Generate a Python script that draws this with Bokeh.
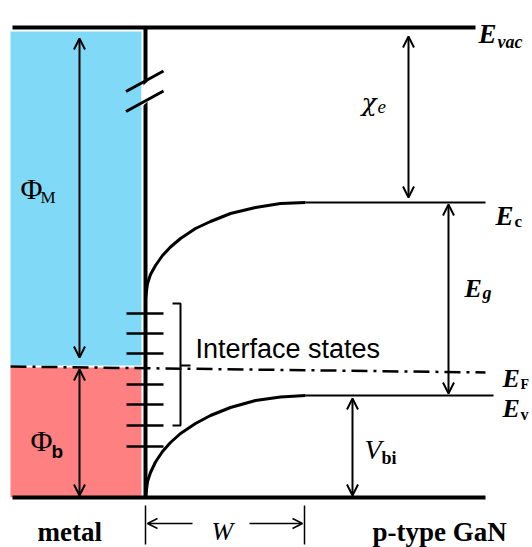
from bokeh.plotting import figure
from bokeh.models import Range1d, Arrow, OpenHead
from bokeh.core.properties import value
from bokeh.embed import file_html
from bokeh.resources import INLINE

# ---- energy levels (picture units, y grows downward) ----
E_VAC = 27
E_C = 202
E_F_LEFT = 366
E_F_RIGHT = 372
E_V = 395
E_BOTTOM = 497
X_LEFT = 10
X_IFACE = 145
X_DEPL = 305
X_RIGHT_END = 485

# band-bending curves
ec_x = [145, 147, 150, 155, 162, 170, 180, 195, 210, 230, 255, 280, 305]
ec_y = [298, 283, 274, 265, 255, 246.5, 238, 228, 221, 213, 207, 203, 202]
ev_x = [145, 147, 150, 155, 162, 170, 180, 195, 210, 230, 255, 280, 305]
ev_y = [497, 481, 472, 461.5, 451, 442, 433, 423, 415, 407, 400, 396.5, 395]

# interface states
states_y = [313, 333, 353, 384, 404, 425, 446]

BLUE = "#80d9f6"
RED = "#ff8080"
SERIF = value("Liberation Serif")
DSERIF = value("DejaVu Serif")
SANS = value("Liberation Sans")

p = figure(width=532, height=547, output_backend="svg", toolbar_location=None,
           x_range=Range1d(0, 532), y_range=Range1d(547, 0), min_border=0)
p.axis.visible = False
p.grid.visible = False
p.outline_line_color = None
p.background_fill_color = "white"
p.border_fill_color = "white"

# metal regions
p.quad(left=[X_LEFT], right=[X_IFACE - 4], top=[E_VAC + 4], bottom=[E_F_LEFT - 1],
       fill_color=BLUE, line_color=None)
p.quad(left=[X_LEFT], right=[X_IFACE - 4], top=[E_F_LEFT + 1], bottom=[E_BOTTOM],
       fill_color=RED, line_color=None)

# vacuum level and bottom line
p.line([12, 475], [E_VAC, E_VAC], line_width=4, color="black")
p.line([12, X_RIGHT_END], [E_BOTTOM, E_BOTTOM], line_width=4, color="black")

# interface vertical line
p.line([X_IFACE, X_IFACE], [E_VAC, E_BOTTOM], line_width=4, color="black")

# axis break
p.patch([141, 153, 153, 141], [86.4, 76, 96, 106.4], fill_color="white", line_color=None)
p.line([125.5, 163], [91, 70.5], line_width=3, color="black")
p.line([125.5, 163], [111, 90.5], line_width=3, color="black")

# conduction and valence band
p.line(ec_x, ec_y, line_width=3, color="black")
p.line([X_DEPL, X_RIGHT_END], [E_C, E_C], line_width=2, color="black")
p.line(ev_x, ev_y, line_width=3, color="black")
p.line([X_DEPL, 493], [E_V, E_V], line_width=2, color="black")

# Fermi level
p.line([X_LEFT, X_RIGHT_END], [E_F_LEFT, E_F_RIGHT], line_width=2.5, color="black",
       line_dash="16 6 3 6")

# interface states
p.segment(x0=[126] * len(states_y), x1=[163] * len(states_y), y0=states_y, y1=states_y,
          line_width=2.5, color="black")
# bracket
p.line([172, 180, 180, 172], [303, 303, 425, 425], line_width=2, color="black")
p.line([180, 190], [365, 365], line_width=2, color="black")

def arrow(x0, y0, x1, y1, both=True, lw=2, size=11):
    a = Arrow(x_start=x0, y_start=y0, x_end=x1, y_end=y1, line_width=lw,
              end=OpenHead(size=size, line_width=lw),
              start=OpenHead(size=size, line_width=lw) if both else None)
    p.add_layout(a)

arrow(79, 38, 79, 357)          # Phi_M
arrow(79, 369, 79, 495)         # Phi_b
arrow(408, 36, 408, 197)        # chi_e
arrow(448, 204, 448, 393)       # E_g
arrow(352, 398, 352, 495)       # V_bi
arrow(192, 523, 147, 523, both=False, lw=1.5, size=10)  # W left
arrow(249, 523, 302, 523, both=False, lw=1.5, size=10)  # W right
p.segment(x0=[145, 304], x1=[145, 304], y0=[505, 505], y1=[544, 544],
          line_width=1.5, color="black")

def txt(x, y, s, size, font=SERIF, style="normal"):
    p.text(x=[x], y=[y], text=[s], text_font=font, text_font_size=f"{size}px",
           text_font_style=style, text_baseline="alphabetic", text_align="left",
           text_color="black")

# right labels
txt(478, 33, "E", 27, style="bold italic")
txt(497, 41, "vac", 18, style="bold italic")
txt(495, 215, "E", 27, style="bold italic")
txt(514, 221, "c", 17, style="bold")
txt(502, 378, "E", 26, style="bold italic")
txt(520, 384, "F", 14, style="bold")
txt(502, 408, "E", 26, style="bold italic")
txt(520, 414, "v", 16, style="bold")

# in-plot labels
txt(464, 288, "E", 26, style="bold italic")
txt(482, 292, "g", 18, style="bold italic")
txt(361, 102, "\u03c7", 25, font=DSERIF, style="italic")
txt(377, 106, "e", 19, style="italic")
txt(20, 188, "\u03a6", 30)
txt(40, 197, "M", 17)
txt(30, 440, "\u03a6", 30)
txt(51, 451, "b", 19, font=SANS, style="bold")
txt(364, 449, "V", 28, style="italic")
txt(381, 457, "bi", 18, style="bold")
txt(195, 348, "Interface states", 27, font=SANS)

# bottom labels
txt(211, 531, "W", 26, style="italic")
txt(37, 531, "metal", 27, style="bold")
txt(372, 531, "p-type GaN", 27, style="bold")

open("out.html", "w").write(file_html(p, INLINE))
